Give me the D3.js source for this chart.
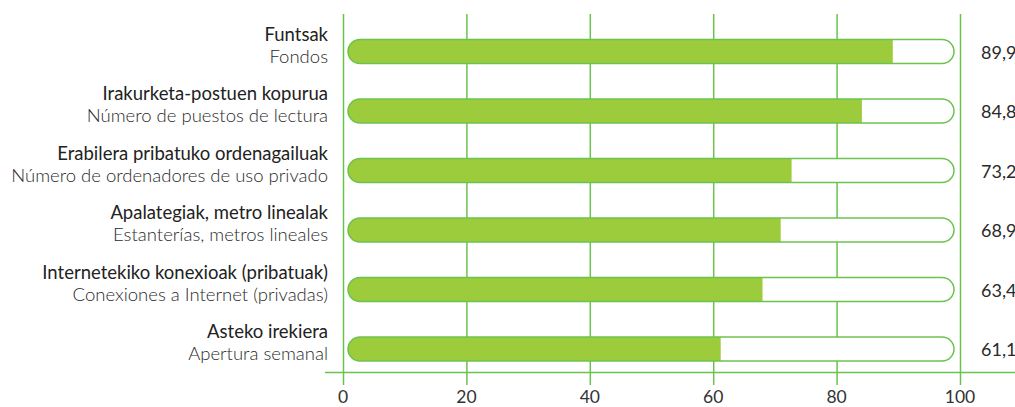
<!DOCTYPE html>
<html><head><meta charset="utf-8">
<script src="https://cdn.jsdelivr.net/npm/d3@7/dist/d3.min.js"></script>
<style>
html,body{margin:0;padding:0;background:#fff;overflow:hidden}
text{font-family:"Lato","Open Sans",sans-serif}
</style></head>
<body><svg id="c" width="1015" height="407"></svg>
<script>
const labelsEu = ["Funtsak","Irakurketa-postuen kopurua","Erabilera pribatuko ordenagailuak","Apalategiak, metro linealak","Internetekiko konexioak (pribatuak)","Asteko irekiera"];
const labelsEs = ["Fondos","Número de puestos de lectura","Número de ordenadores de uso privado","Estanterías, metros lineales","Conexiones a Internet (privadas)","Apertura semanal"];
const values = [89.9, 84.8, 73.2, 68.9, 63.4, 61.1];
const valueLabels = ["89,9","84,8","73,2","68,9","63,4","61,1"];
// bar fill lengths as drawn in the picture
const barLengths = [89.9, 84.8, 73.2, 71.4, 68.4, 61.5];
const ticks = [0, 20, 40, 60, 80, 100];

const svg = d3.select("#c");
const x = d3.scaleLinear().domain([0,100]).range([343,960]);
const xb = d3.scaleLinear().domain([0,100]).range([348,954]);
const y = d3.scalePoint().domain(labelsEu).range([51.5,349]);
const bh = 24;
const green = "#6cc24f", fillG = "#9ccc3c";

// gridlines
svg.append("g").selectAll("line").data(ticks).join("line")
  .attr("x1",d=>x(d)+0.5).attr("x2",d=>x(d)+0.5).attr("y1",14).attr("y2",385)
  .attr("stroke",green).attr("stroke-width",1.5);
// axis baseline
svg.append("line").attr("x1",325).attr("x2",1015).attr("y1",372.5).attr("y2",372.5)
  .attr("stroke",green).attr("stroke-width",1.5);
// tick labels
svg.append("g").selectAll("text").data(ticks).join("text")
  .attr("x",d=>x(d)).attr("y",403).attr("text-anchor","middle")
  .attr("font-size",17.5).attr("fill","#333").text(d=>d);

const defs = svg.append("defs");
const rows = svg.append("g").selectAll("g").data(labelsEu).join("g");
rows.each(function(d,i){
  const g = d3.select(this);
  const cy = y(d);
  const top = cy - bh/2;
  defs.append("clipPath").attr("id","cp"+i).append("rect")
    .attr("x",xb(0)).attr("y",top).attr("width",xb(100)-xb(0)).attr("height",bh).attr("rx",bh/2);
  g.append("rect").attr("x",xb(0)).attr("y",top).attr("width",xb(100)-xb(0)).attr("height",bh)
    .attr("rx",bh/2).attr("fill","#fff");
  g.append("rect").attr("clip-path","url(#cp"+i+")")
    .attr("x",xb(0)).attr("y",top).attr("width",xb(barLengths[i])-xb(0)).attr("height",bh)
    .attr("fill",fillG);
  g.append("rect").attr("x",xb(0)).attr("y",top).attr("width",xb(100)-xb(0)).attr("height",bh)
    .attr("rx",bh/2).attr("fill","none").attr("stroke",green).attr("stroke-width",1.5);
  g.append("text").attr("x",328).attr("y",cy-11).attr("text-anchor","end")
    .attr("font-size",18.5).attr("fill","#222").attr("font-weight",400).text(labelsEu[i]);
  g.append("text").attr("x",328).attr("y",cy+11).attr("text-anchor","end")
    .attr("font-size",18.5).attr("fill","#2a2a2a").attr("font-weight",300).text(labelsEs[i]);
  g.append("text").attr("x",981).attr("y",cy+7).attr("text-anchor","start")
    .attr("font-size",18).attr("fill","#2a2a2a").text(valueLabels[i]);
});
</script></body></html>
